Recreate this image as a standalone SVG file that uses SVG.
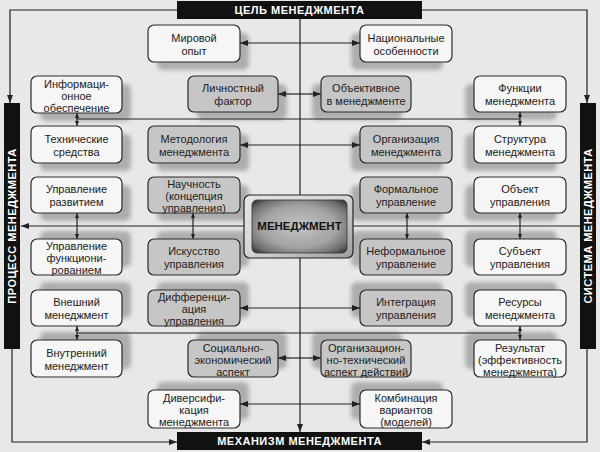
<svg xmlns="http://www.w3.org/2000/svg" width="600" height="452" viewBox="0 0 600 452">
<defs>
<style>
.bg{fill:#e8e8e8}
.w{fill:#f6f6f6;stroke:#2a2a2a;stroke-width:1.2}
.g{fill:#c6c6c6;stroke:#2a2a2a;stroke-width:1.2}
.sh{fill:#adadad;filter:url(#blur)}
.t{font-family:"Liberation Sans",Arial,sans-serif;font-size:11px;fill:#222;text-anchor:middle}
.bar{fill:#111}
.bt{font-family:"Liberation Sans",Arial,sans-serif;font-size:11px;font-weight:bold;fill:#fff;text-anchor:middle;letter-spacing:0.5px}
.ln{fill:none;stroke:#222;stroke-width:1.2}
.a{marker-end:url(#ar)}
.d{marker-start:url(#sa);marker-end:url(#sa)}
.dd{marker-start:url(#ar);marker-end:url(#ar)}
</style>
<filter id="blur" x="-20%" y="-20%" width="140%" height="140%"><feGaussianBlur stdDeviation="2"/></filter>
<marker id="ar" viewBox="0 0 8 6" markerWidth="8" markerHeight="6" refX="8" refY="3" orient="auto-start-reverse" markerUnits="userSpaceOnUse"><path d="M0,0 L8,3 L0,6 z" fill="#222"/></marker>
<marker id="sa" viewBox="0 0 5 4" markerWidth="5" markerHeight="4" refX="5" refY="2" orient="auto-start-reverse" markerUnits="userSpaceOnUse"><path d="M0,0 L5,2 L0,4 z" fill="#222"/></marker>
<radialGradient id="inner" cx="50%" cy="50%" r="72%"><stop offset="0" stop-color="#c4c4c4"/><stop offset="0.55" stop-color="#a2a2a2"/><stop offset="0.8" stop-color="#6e6e6e"/><stop offset="1" stop-color="#1e1e1e"/></radialGradient>
<linearGradient id="outer" x1="0" y1="0" x2="1" y2="1"><stop offset="0" stop-color="#e6e6e6"/><stop offset="0.5" stop-color="#d4d4d4"/><stop offset="1" stop-color="#9c9c9c"/></linearGradient>
</defs>
<rect class="bg" x="0" y="0" width="600" height="452"/>

<g id="shadows">
<rect class="sh" x="40" y="84" width="91" height="37" rx="6"/>
<rect class="sh" x="40" y="134" width="91" height="37" rx="6"/>
<rect class="sh" x="40" y="185" width="91" height="36" rx="6"/>
<rect class="sh" x="40" y="231" width="91" height="36" rx="6"/>
<rect class="sh" x="40" y="282" width="91" height="36" rx="6"/>
<rect class="sh" x="40" y="332" width="91" height="37" rx="6"/>
<rect class="sh" x="157" y="33" width="92" height="37" rx="6"/>
<rect class="sh" x="197" y="84" width="90" height="36" rx="6"/>
<rect class="sh" x="157" y="134" width="92" height="37" rx="6"/>
<rect class="sh" x="157" y="185" width="92" height="36" rx="6"/>
<rect class="sh" x="157" y="231" width="92" height="36" rx="6"/>
<rect class="sh" x="157" y="282" width="92" height="36" rx="6"/>
<rect class="sh" x="197" y="332" width="90" height="37" rx="6"/>
<rect class="sh" x="157" y="382" width="92" height="38" rx="6"/>
<rect class="sh" x="351" y="33" width="92" height="37" rx="6"/>
<rect class="sh" x="312" y="84" width="90" height="36" rx="6"/>
<rect class="sh" x="351" y="134" width="92" height="37" rx="6"/>
<rect class="sh" x="351" y="185" width="92" height="36" rx="6"/>
<rect class="sh" x="351" y="231" width="92" height="36" rx="6"/>
<rect class="sh" x="351" y="282" width="92" height="36" rx="6"/>
<rect class="sh" x="312" y="332" width="90" height="37" rx="6"/>
<rect class="sh" x="351" y="382" width="92" height="38" rx="6"/>
<rect class="sh" x="465" y="84" width="92" height="36" rx="6"/>
<rect class="sh" x="465" y="134" width="92" height="37" rx="6"/>
<rect class="sh" x="465" y="185" width="92" height="36" rx="6"/>
<rect class="sh" x="465" y="231" width="92" height="36" rx="6"/>
<rect class="sh" x="465" y="282" width="92" height="36" rx="6"/>
<rect class="sh" x="465" y="332" width="92" height="37" rx="6"/>
</g>

<g id="connectors">
<path class="ln a" d="M177,10 H10 V103"/>
<path class="ln a" d="M422,10 H587 V103"/>
<path class="ln a" d="M12,349 V442 H177"/>
<path class="ln a" d="M587,349 V442 H422"/>
<path class="ln" d="M300,19 V195"/>
<path class="ln a" d="M300,258 V432"/>
<path class="ln a" d="M244,226 H21"/>
<path class="ln" d="M353,226 H580"/>
<path class="ln a" d="M300,43 H240"/>
<path class="ln a" d="M300,43 H360"/>
<path class="ln a" d="M300,94 H278"/>
<path class="ln a" d="M300,94 H321"/>
<path class="ln" d="M77,119 H520"/>
<path class="ln d" d="M77,113 V126"/>
<path class="ln d" d="M520,112 V126"/>
<path class="ln dd" d="M240,145 H360"/>
<path class="ln d" d="M77,213 V239"/>
<path class="ln d" d="M193,213 V239"/>
<path class="ln d" d="M407,213 V239"/>
<path class="ln d" d="M520,213 V239"/>
<path class="ln dd" d="M240,308 H360"/>
<path class="ln" d="M77,333 H520"/>
<path class="ln d" d="M77,326 V340"/>
<path class="ln d" d="M520,326 V340"/>
<path class="ln a" d="M300,358 H278"/>
<path class="ln a" d="M300,358 H321"/>
<path class="ln a" d="M300,404 H240"/>
<path class="ln a" d="M300,404 H360"/>
</g>

<g id="goal"><rect class="bar" x="177" y="1" width="245" height="18"/><text class="bt" x="299.5" y="14">ЦЕЛЬ МЕНЕДЖМЕНТА</text></g>
<g id="mechanism"><rect class="bar" x="177" y="432" width="245" height="18"/><text class="bt" x="299.5" y="445">МЕХАНИЗМ МЕНЕДЖМЕНТА</text></g>
<g id="process"><rect class="bar" x="4" y="103" width="16" height="246"/><text class="bt" transform="translate(16,226) rotate(-90)">ПРОЦЕСС МЕНЕДЖМЕНТА</text></g>
<g id="system"><rect class="bar" x="580" y="103" width="16" height="246"/><text class="bt" transform="translate(592,226) rotate(-90)">СИСТЕМА МЕНЕДЖМЕНТА</text></g>

<g id="management">
<rect x="244" y="195" width="109" height="63" rx="6" fill="url(#outer)" stroke="#222" stroke-width="1.2"/>
<rect x="252" y="200" width="95" height="53" rx="5" fill="url(#inner)" stroke="#333" stroke-width="0.8"/>
<text x="299.5" y="229.5" font-family="Liberation Sans,Arial,sans-serif" font-size="11.5" font-weight="bold" fill="#111" text-anchor="middle">МЕНЕДЖМЕНТ</text>
</g>

<g id="a1"><rect class="w" x="31" y="76" width="91" height="37" rx="6"/><text class="t" x="76.5" y="87.5">Информаци-</text><text class="t" x="76.5" y="99.5">онное</text><text class="t" x="76.5" y="111.5">обеспечение</text></g>
<g id="a2"><rect class="w" x="31" y="126" width="91" height="37" rx="6"/><text class="t" x="76.5" y="142.5">Технические</text><text class="t" x="76.5" y="155.5">средства</text></g>
<g id="a3"><rect class="w" x="31" y="177" width="91" height="36" rx="6"/><text class="t" x="76.5" y="193">Управление</text><text class="t" x="76.5" y="206">развитием</text></g>
<g id="a4"><rect class="w" x="31" y="239" width="91" height="36" rx="6"/><text class="t" x="76.5" y="250">Управление</text><text class="t" x="76.5" y="262">функциони-</text><text class="t" x="76.5" y="274">рованием</text></g>
<g id="a5"><rect class="w" x="31" y="290" width="91" height="36" rx="6"/><text class="t" x="76.5" y="306">Внешний</text><text class="t" x="76.5" y="319">менеджмент</text></g>
<g id="a6"><rect class="w" x="31" y="340" width="91" height="37" rx="6"/><text class="t" x="76.5" y="356.5">Внутренний</text><text class="t" x="76.5" y="369.5">менеджмент</text></g>

<g id="b0"><rect class="w" x="148" y="25" width="92" height="37" rx="6"/><text class="t" x="194" y="41.5">Мировой</text><text class="t" x="194" y="54.5">опыт</text></g>
<g id="b1"><rect class="g" x="188" y="76" width="90" height="36" rx="6"/><text class="t" x="233" y="92">Личностный</text><text class="t" x="233" y="105">фактор</text></g>
<g id="b2"><rect class="g" x="148" y="126" width="92" height="37" rx="6"/><text class="t" x="194" y="142.5">Методология</text><text class="t" x="194" y="155.5">менеджмента</text></g>
<g id="b3"><rect class="g" x="148" y="177" width="92" height="36" rx="6"/><text class="t" x="194" y="188">Научность</text><text class="t" x="194" y="200">(концепция</text><text class="t" x="194" y="212">управления)</text></g>
<g id="b4"><rect class="g" x="148" y="239" width="92" height="36" rx="6"/><text class="t" x="194" y="255">Искусство</text><text class="t" x="194" y="268">управления</text></g>
<g id="b5"><rect class="g" x="148" y="290" width="92" height="36" rx="6"/><text class="t" x="194" y="301">Дифференци-</text><text class="t" x="194" y="313">ация</text><text class="t" x="194" y="325">управления</text></g>
<g id="b6"><rect class="g" x="188" y="340" width="90" height="37" rx="6"/><text class="t" x="233" y="351.5">Социально-</text><text class="t" x="233" y="363.5">экономический</text><text class="t" x="233" y="375.5">аспект</text></g>
<g id="b7"><rect class="w" x="148" y="390" width="92" height="38" rx="6"/><text class="t" x="194" y="402">Диверсифи-</text><text class="t" x="194" y="414">кация</text><text class="t" x="194" y="426">менеджмента</text></g>

<g id="c0"><rect class="w" x="360" y="25" width="92" height="37" rx="6"/><text class="t" x="406" y="41.5">Национальные</text><text class="t" x="406" y="54.5">особенности</text></g>
<g id="c1"><rect class="g" x="321" y="76" width="90" height="36" rx="6"/><text class="t" x="366" y="92">Объективное</text><text class="t" x="366" y="105">в менеджменте</text></g>
<g id="c2"><rect class="g" x="360" y="126" width="92" height="37" rx="6"/><text class="t" x="406" y="142.5">Организация</text><text class="t" x="406" y="155.5">менеджмента</text></g>
<g id="c3"><rect class="g" x="360" y="177" width="92" height="36" rx="6"/><text class="t" x="406" y="193">Формальное</text><text class="t" x="406" y="206">управление</text></g>
<g id="c4"><rect class="g" x="360" y="239" width="92" height="36" rx="6"/><text class="t" x="406" y="255">Неформальное</text><text class="t" x="406" y="268">управление</text></g>
<g id="c5"><rect class="g" x="360" y="290" width="92" height="36" rx="6"/><text class="t" x="406" y="306">Интеграция</text><text class="t" x="406" y="319">управления</text></g>
<g id="c6"><rect class="g" x="321" y="340" width="90" height="37" rx="6"/><text class="t" x="366" y="351.5">Организацион-</text><text class="t" x="366" y="363.5">но-технический</text><text class="t" x="366" y="375.5">аспект действий</text></g>
<g id="c7"><rect class="w" x="360" y="390" width="92" height="38" rx="6"/><text class="t" x="406" y="402">Комбинация</text><text class="t" x="406" y="414">вариантов</text><text class="t" x="406" y="426">(моделей)</text></g>

<g id="d1"><rect class="w" x="474" y="76" width="92" height="36" rx="6"/><text class="t" x="520" y="92">Функции</text><text class="t" x="520" y="105">менеджмента</text></g>
<g id="d2"><rect class="w" x="474" y="126" width="92" height="37" rx="6"/><text class="t" x="520" y="142.5">Структура</text><text class="t" x="520" y="155.5">менеджмента</text></g>
<g id="d3"><rect class="w" x="474" y="177" width="92" height="36" rx="6"/><text class="t" x="520" y="193">Объект</text><text class="t" x="520" y="206">управления</text></g>
<g id="d4"><rect class="w" x="474" y="239" width="92" height="36" rx="6"/><text class="t" x="520" y="255">Субъект</text><text class="t" x="520" y="268">управления</text></g>
<g id="d5"><rect class="w" x="474" y="290" width="92" height="36" rx="6"/><text class="t" x="520" y="306">Ресурсы</text><text class="t" x="520" y="319">менеджмента</text></g>
<g id="d6"><rect class="w" x="474" y="340" width="92" height="37" rx="6"/><text class="t" x="520" y="351.5">Результат</text><text class="t" x="520" y="363.5">(эффективность</text><text class="t" x="520" y="375.5">менеджмента)</text></g>
</svg>
